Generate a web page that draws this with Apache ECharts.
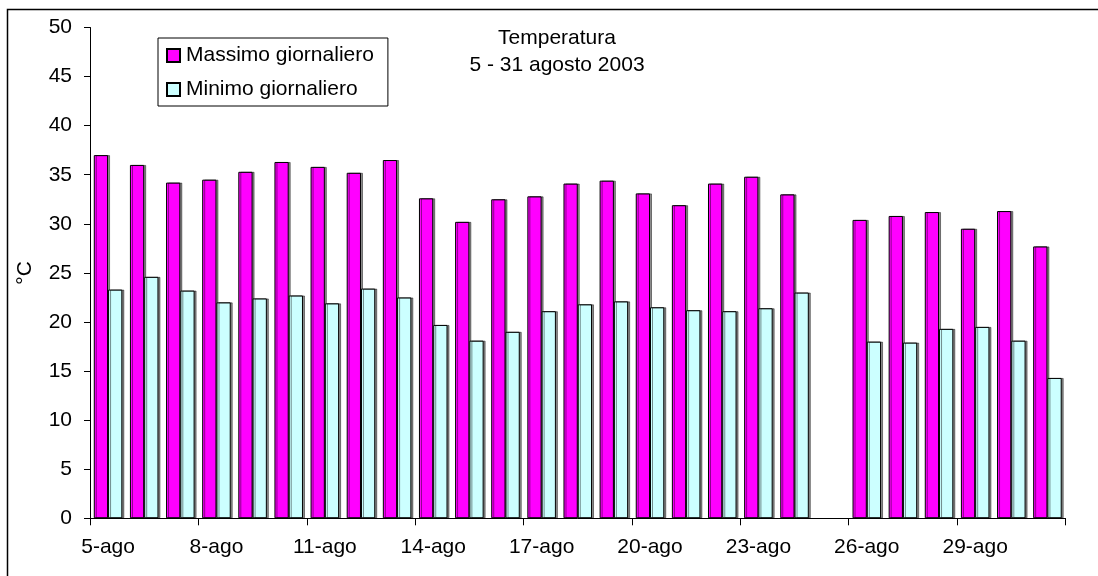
<!DOCTYPE html>
<html>
<head>
<meta charset="utf-8">
<script src="https://cdn.jsdelivr.net/npm/echarts@6/dist/echarts.min.js"></script>
<style>
  html, body { margin: 0; padding: 0; background: #fff; }
  #chart { width: 1098px; height: 576px; }
</style>
</head>
<body>
<div id="chart"></div>
<script>
// Giorni dal 5 al 31 agosto 2003 (manca il 25)
const giorni = ['5-ago','6-ago','7-ago','8-ago','9-ago','10-ago','11-ago','12-ago','13-ago',
  '14-ago','15-ago','16-ago','17-ago','18-ago','19-ago','20-ago','21-ago','22-ago','23-ago',
  '24-ago','25-ago','26-ago','27-ago','28-ago','29-ago','30-ago','31-ago'];

// Temperature massime giornaliere (°C)
const massimo = [37.0, 36.0, 34.2, 34.5, 35.3, 36.3, 35.8, 35.2, 36.5, 32.6, 30.2, 32.5, 32.8,
  34.1, 34.4, 33.1, 31.9, 34.1, 34.8, 33.0, null, 30.4, 30.8, 31.2, 29.5, 31.3, 27.7];

// Temperature minime giornaliere (°C)
const minimo = [23.3, 24.6, 23.2, 22.0, 22.4, 22.7, 21.9, 23.4, 22.5, 19.7, 18.1, 19.0, 21.1,
  21.8, 22.1, 21.5, 21.2, 21.1, 21.4, 23.0, null, 18.0, 17.9, 19.3, 19.5, 18.1, 14.3];

const nomiSerie = ['Massimo giornaliero', 'Minimo giornaliero'];
const titolo = 'Temperatura\n5 - 31 agosto 2003';
const unita = '°C';

const FONT = '"Liberation Sans", Arial, sans-serif';

const chart = echarts.init(document.getElementById('chart'), null, { renderer: 'canvas' });

const barStyle = (color) => ({
  color: color,
  borderColor: '#000',
  borderWidth: 1,
  shadowColor: 'rgba(0,0,0,0.45)',
  shadowOffsetX: 2,
  shadowOffsetY: 0,
  shadowBlur: 0
});

chart.setOption({
  animation: false,
  backgroundColor: '#fff',
  title: {
    text: titolo,
    left: 557,
    top: 25,
    padding: 0,
    textAlign: 'center',
    textStyle: {
      fontFamily: FONT,
      fontSize: 21,
      fontWeight: 'normal',
      lineHeight: 27,
      color: '#000'
    }
  },
  legend: {
    orient: 'vertical',
    left: 158,
    top: 38,
    padding: [7, 14, 6, 8],
    itemGap: 13,
    itemWidth: 13,
    itemHeight: 13,
    icon: 'rect',
    borderColor: '#000',
    borderWidth: 1,
    backgroundColor: '#fff',
    selectedMode: false,
    textStyle: { fontFamily: FONT, fontSize: 21, color: '#000', padding: [0, 0, 0, 1] },
    data: nomiSerie
  },
  grid: {
    left: 90,
    right: 32.5,
    top: 27.5,
    bottom: 57.7,
    outerBoundsMode: 'none'
  },
  xAxis: {
    type: 'category',
    data: giorni,
    boundaryGap: true,
    axisLine: { show: true, lineStyle: { color: '#000', width: 1 } },
    axisTick: { show: true, interval: 2, length: 7, alignWithLabel: false, lineStyle: { color: '#000' } },
    axisLabel: { interval: 2, margin: 18, fontFamily: FONT, fontSize: 21, color: '#000', hideOverlap: false },
    splitLine: { show: false }
  },
  yAxis: {
    type: 'value',
    min: 0,
    max: 50,
    interval: 5,
    name: unita,
    nameLocation: 'middle',
    nameRotate: 90,
    nameGap: 54,
    nameMoveOverlap: false,
    nameTextStyle: { fontFamily: FONT, fontSize: 21, color: '#000' },
    axisLine: { show: true, lineStyle: { color: '#000', width: 1 } },
    axisTick: { show: true, length: 6, inside: false, lineStyle: { color: '#000' } },
    axisLabel: { margin: 18, fontFamily: FONT, fontSize: 21, color: '#000' },
    splitLine: { show: false }
  },
  series: [
    {
      name: nomiSerie[0],
      type: 'bar',
      data: massimo,
      barGap: '0%',
      barCategoryGap: '21%',
      itemStyle: barStyle('#FF00FF')
    },
    {
      name: nomiSerie[1],
      type: 'bar',
      data: minimo,
      barGap: '0%',
      barCategoryGap: '21%',
      itemStyle: barStyle('#CCFFFF')
    }
  ],
  graphic: [
    {
      type: 'rect',
      silent: true,
      z: 100,
      shape: { x: 7.5, y: 9.5, width: 1200, height: 700 },
      style: { fill: null, stroke: '#000', lineWidth: 1.5 }
    }
  ]
});
</script>
</body>
</html>
